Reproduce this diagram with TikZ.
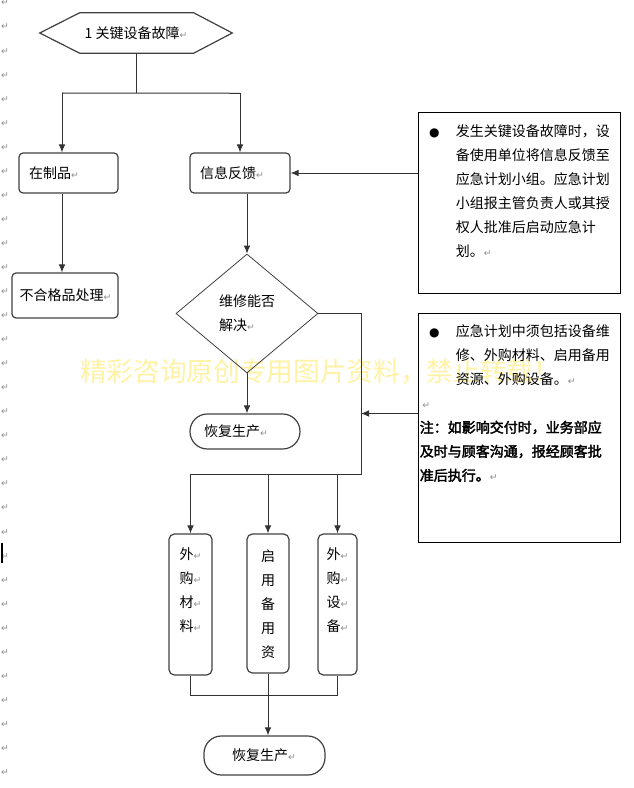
\documentclass[tikz,border=0pt]{standalone}
\usepackage{fontspec}
\setmainfont{Noto Sans CJK SC}[AutoFakeBold=2.5]
\newfontfamily\symf{DejaVu Sans}
\usetikzlibrary{arrows.meta,calc,shapes.geometric,positioning}
\definecolor{wmyellow}{RGB}{255,242,165}
\newcommand\retmark{{\symf\scriptsize\color{black!45}↵}}
\newcommand\bul{{\symf\small ●}}
\newcommand\noteind{\hspace*{27pt}}

\begin{document}
\begin{tikzpicture}[x=0.75pt, y=-0.75pt,
  every node/.style={font=\fontsize{10.5pt}{18pt}\selectfont},
  proc/.style={draw=black!75, line width=0.9pt, rounded corners=3pt, align=left, inner xsep=7.5pt, minimum height=30pt},
  term/.style={proc, rounded corners=13pt, inner xsep=10.5pt},
  vbox/.style={draw=black!75, line width=0.9pt, rounded corners=4pt},
  note/.style={draw=black, line width=0.75pt, minimum width=151.5pt},
  txt/.style={align=left, inner sep=0pt},
  wire/.style={draw=black!80, line width=0.75pt},
  flow/.style={wire, -{Latex[length=6pt,width=5pt]}}]
\useasboundingbox (0,0) rectangle (633,788);
%--- watermark ---
\node[text=wmyellow, font=\fontsize{20pt}{24pt}\selectfont] (wmark) at (320,372) {精彩咨询原创专用图片资料，禁止转载！};
%--- paragraph marks on the margin ---
\foreach \i in {0,...,32}
  \node[inner sep=0pt] (pm\i) at (5,{3+24.05*\i}) {\retmark};
\fill (1,543) rectangle (3,563);
%--- fault ---
\node[minimum width=144pt, minimum height=30pt] (fault) at (136,33) {1 关键设备故障\retmark};
\draw[draw=black!75, line width=0.9pt] (fault.west) -- ([xshift=30pt]fault.north west) -- ([xshift=-29pt]fault.north east) -- (fault.east) -- ([xshift=-29pt]fault.south east) -- ([xshift=30pt]fault.south west) -- cycle;
%--- left branch ---
\node[proc, text width=59.25pt] (wip) at (68.5,173) {在制品\retmark};
\node[proc, text width=68pt, inner xsep=5.75pt, minimum height=33.75pt] (reject) at (65,295.5) {不合格品处理\retmark};
%--- right branch ---
\node[proc, text width=60pt] (info) at (240,173) {信息反馈\retmark};
\node[diamond, draw=black!75, line width=0.6pt, minimum width=106.5pt, minimum height=89.25pt, inner sep=0pt, align=left] (repair) at (247,313.5) {维修能否\\解决\retmark};
\node[term, text width=61.5pt, minimum height=26.25pt] (restore1) at (245,431.5) {恢复生产\retmark};
%--- measures ---
\node[vbox, minimum width=32.25pt, minimum height=105.75pt] (buy1) at (190.5,604.5) {};
\node[vbox, minimum width=31.5pt, minimum height=104.25pt] (spare) at (268,603.5) {};
\node[vbox, minimum width=29.25pt, minimum height=105.75pt] (buy2) at (337.5,604.5) {};
\node[txt, align=center, anchor=north] (buy1t) at ([yshift=-10.5pt]buy1.north) {外\retmark\\购\retmark\\材\retmark\\料\retmark};
\node[txt, align=center, anchor=north] (sparet) at ([yshift=-12pt]spare.north) {启\\用\\备\\用\\资};
\node[txt, align=center, anchor=north] (buy2t) at ([yshift=-10.5pt]buy2.north) {外\retmark\\购\retmark\\设\retmark\\备\retmark};
\node[term, text width=48.75pt, inner xsep=21pt, minimum height=29.25pt] (restore2) at (264.5,755.5) {恢复生产\retmark};
%--- notes ---
\node[note, minimum height=135pt] (note1) at (519,203) {};
\node[txt, anchor=north west] (note1t) at ([shift={(2,12)}]note1.north west) {%
\hspace*{7pt}\makebox[20pt][l]{\bul}发生关键设备故障时，设\\
\noteind 备使用单位将信息反馈至\\
\noteind 应急计划小组。应急计划\\
\noteind 小组报主管负责人或其授\\
\noteind 权人批准后启动应急计\\
\noteind 划。\retmark};
\node[note, minimum height=171.75pt] (note2) at (519,427.5) {};
\node[txt, anchor=north west] (note2t) at ([shift={(2,12)}]note2.north west) {%
\hspace*{7pt}\makebox[20pt][l]{\bul}应急计划中须包括设备维\\
\noteind 修、外购材料、启用备用\\
\noteind 资源、外购设备。\retmark\\
\hspace*{2pt}\retmark\\
\textbf{注：如影响交付时，业务部应}\\
\textbf{及时与顾客沟通，报经顾客批}\\
\textbf{准后执行。}\retmark};
%--- connectors ---
\coordinate (split) at ($(fault.south)+(0,40)$);
\coordinate (splitL) at (62,93);
\draw[wire] (fault.south) -- (split);
\draw[wire] (splitL) -- (split -| info.north);
\draw[flow] (splitL) -- (splitL |- wip.north);
\draw[flow] (split -| info.north) -- (info.north);
\draw[flow] (splitL |- wip.south) -- (splitL |- reject.north);
\draw[flow] (info.south -| repair.north) -- (repair.north);
\draw[flow] (note1.west |- info.east) -- (info.east);
\draw[flow] (repair.south) -- (repair.south |- restore1.north);
\coordinate (busR) at (361,474);
\draw[wire] (repair.east) -- (repair.east -| busR) -- (busR) -- (busR -| buy1.north);
\draw[flow] (busR -| buy1.north) -- (buy1.north);
\draw[flow] (busR -| spare.north) -- (spare.north);
\draw[flow] (busR -| buy2.north) -- (buy2.north);
\coordinate (n2in) at ($(note2.north west)+(0,101)$);
\draw[flow] (n2in) -- (n2in -| busR);
\coordinate (joinB) at ($(spare.south)+(0,22)$);
\draw[wire] (buy1.south) -- (buy1.south |- joinB) -- (buy2.south |- joinB) -- (buy2.south);
\draw[flow] (spare.south) -- (spare.south |- restore2.north);
\end{tikzpicture}
\end{document}
